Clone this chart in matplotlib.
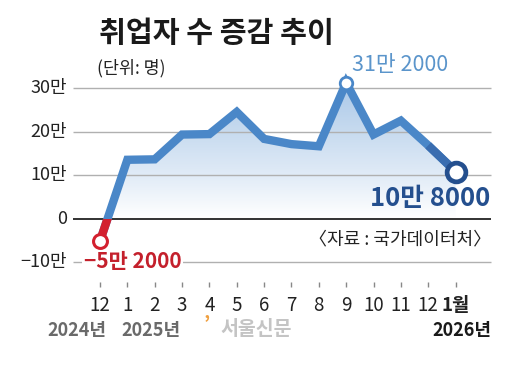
import numpy as np
import matplotlib
matplotlib.use('Agg')
import matplotlib.pyplot as plt
from matplotlib.colors import LinearSegmentedColormap
from matplotlib.patches import Rectangle

plt.rcParams['font.family'] = ['Noto Sans CJK KR', 'DejaVu Sans']

# employment change, unit: 10,000 persons (만 명)
months = ['12', '1', '2', '3', '4', '5', '6', '7', '8', '9', '10', '11', '12', '1월']
values = [-5.2, 13.5, 13.6, 19.3, 19.4, 24.5, 18.3, 17.1, 16.6, 31.2, 19.3, 22.5, 16.8, 10.8]
yticks = [30, 20, 10, 0, -10]
ylabels = ['30만', '20만', '10만', '0', '\u221210만']

BLUE = '#4a87c8'
DARK = '#244f8e'
RED = '#d3202f'

x = np.arange(len(values))
y = np.array(values)

fig = plt.figure(figsize=(5.08, 3.70), dpi=100)
ax = fig.add_axes([0, 0, 1, 1])
ax.axis('off')

# grid (drawn over the fill, under the line)
for t in yticks:
    if t == 0:
        ax.hlines(t, -0.99, 14.3, color='#222222', lw=1.3, zorder=2)
    else:
        ax.hlines(t, -0.99, 14.3, color='#b0b0b0', lw=1.0, zorder=2)
for t, lab in zip(yticks, ylabels):
    ax.text(-1.2, t, lab, ha='right', va='center', fontsize=13, color='#222222')

# gradient fill under the line (above zero only)
poly = ax.fill_between(x, y, 0, where=y > 0, interpolate=True,
                       facecolor='none', edgecolor='none')
cmap = LinearSegmentedColormap.from_list(
    'fade', [(0, '#ffffff'), (0.3, '#e2ecf7'), (0.65, '#c6daef'), (1, '#a9c7e8')])
grad = np.linspace(0, 1, 256).reshape(-1, 1)
im = ax.imshow(grad, extent=[x[0], x[-1], 0, 31.2], origin='lower',
               aspect='auto', cmap=cmap, zorder=1)
im.set_clip_path(poly.get_paths()[0], ax.transData)

# line
LW = 6.0
ax.plot(x, y, color=BLUE, lw=LW, solid_joinstyle='miter', zorder=3)
ax.plot(x[-2:], y[-2:], color='#3a6db0', lw=LW, solid_capstyle='butt', zorder=3)
red, = ax.plot(x[:2], y[:2], color=RED, lw=LW, solid_capstyle='butt', zorder=4)
clip = Rectangle((-5, -40), 10, 40, transform=ax.transData)
red.set_clip_path(clip)

# markers
ax.plot(x[0], y[0], 'o', ms=10, mfc='white', mec=RED, mew=2.2, zorder=5)
ax.plot(x[9], y[9], 'o', ms=9, mfc='white', mec=BLUE, mew=2.0, zorder=5)
ax.plot(x[-1], y[-1], 'o', ms=13.5, mfc='white', mec=DARK, mew=3.4, zorder=5)

# x ticks and labels
ax.vlines(x, -14.6, -15.8, color='#888888', lw=1.0)
for i, m in enumerate(months):
    ax.text(i, -20.0, m, ha='center', va='center', fontsize=13.5,
            color='#222222', fontweight='bold' if m == '1월' else 'normal')
ax.text(-0.84, -25.7, '2024년', ha='center', va='center', fontsize=13,
        color='#6a6a6a', fontweight='bold')
ax.text(1.88, -25.7, '2025년', ha='center', va='center', fontsize=13,
        color='#6a6a6a', fontweight='bold')
ax.text(14.3, -25.7, '2026년', ha='right', va='center', fontsize=13,
        color='#1a1a1a', fontweight='bold')

# watermark
ax.text(3.9, -24.2, '\u2019', ha='center', va='center', fontsize=14,
        color='#f0a040', fontweight='bold')
ax.text(5.7, -25.5, '서울신문', ha='center', va='center', fontsize=14,
        color='#c4c4c4', fontweight='bold')

# annotations
ax.text(10.97, 35.3, '31만 2000', ha='center', va='center', fontsize=15.5,
        color='#5b95cb')
ax.text(14.28, 4.6, '10만 8000', ha='right', va='center', fontsize=18.5,
        color=DARK, fontweight='bold')
ax.text(-0.6, -10.0, '\u22125만 2000', ha='left', va='center', fontsize=15,
        color='#c4202c', fontweight='bold',
        bbox=dict(facecolor='white', edgecolor='none', pad=1))
ax.text(14.3, -4.8, '〈자료 : 국가데이터처〉', ha='right', va='center',
        fontsize=13, color='#222222')

# title
ax.text(-0.05, 42.6, '취업자 수 증감 추이', ha='left', va='center', fontsize=21,
        color='#1a1a1a', fontweight='bold')
ax.text(-0.1, 34.6, '(단위: 명)', ha='left', va='center', fontsize=12.5,
        color='#222222')

ax.set_xlim(-100 / 27.35, 408 / 27.35)
ax.set_ylim((218.5 - 370) / 4.35, 218.5 / 4.35)

fig.savefig('out.png', dpi=100, facecolor='white')
